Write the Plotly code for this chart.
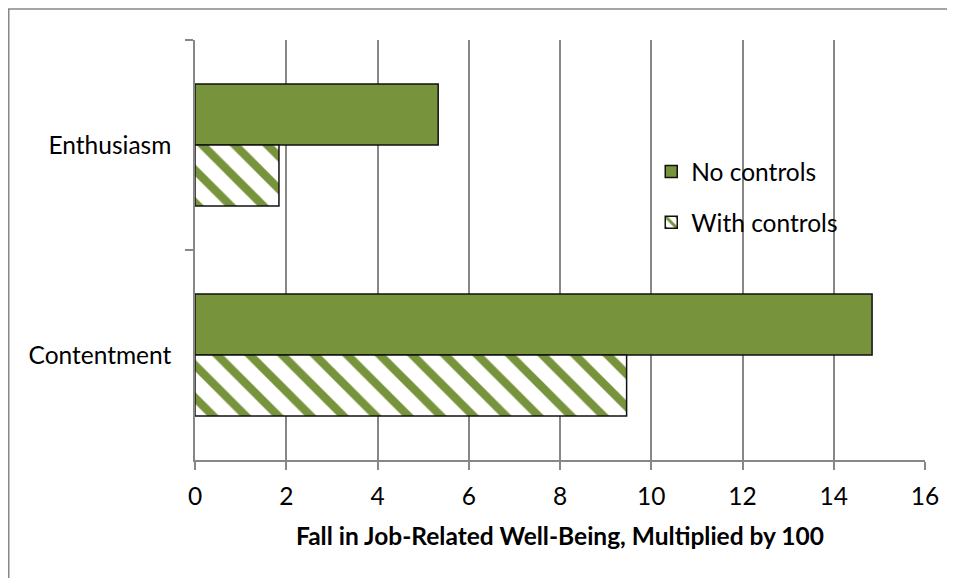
import plotly.graph_objects as go

categories = ["Enthusiasm", "Contentment"]
no_controls = [5.33, 14.84]
with_controls = [1.84, 9.46]
x_ticks = [0, 2, 4, 6, 8, 10, 12, 14, 16]
x_title = "Fall in Job-Related Well-Being, Multiplied by 100"

GREEN = "#77933C"
GRID = "#878787"
FONT = "Lato, 'Open Sans', sans-serif"
FS = 24.5

# page has an 8px body margin; figure sized to fit the 955x578 window
W, H = 947, 570
L, R, T, B = 187, 30, 32, 118
PW, PH = W - L - R, H - T - B

fig = go.Figure()
fig.add_trace(go.Bar(
    y=categories, x=no_controls, orientation="h", name="No controls",
    legendgroup="a",
    marker=dict(color=GREEN, line=dict(color="#111111", width=1.5)),
))
fig.add_trace(go.Bar(
    y=categories, x=with_controls, orientation="h", name="With controls",
    legendgroup="b",
    marker=dict(color="white", line=dict(color="#111111", width=1.5),
                pattern=dict(shape="\\", fgcolor=GREEN, bgcolor="white",
                             fillmode="overlay", fgopacity=1,
                             size=23, solidity=0.36)),
))

fig.update_layout(
    width=W, height=H,
    margin=dict(l=L, r=R, t=T, b=B),
    paper_bgcolor="white", plot_bgcolor="white",
    barmode="group", bargap=0.42, bargroupgap=0,
    font=dict(family=FONT, size=FS, color="#000000"),
    legend=dict(x=0.625, y=0.626, xanchor="left", yanchor="middle",
                bgcolor="rgba(0,0,0,0)", font=dict(size=FS),
                tracegroupgap=16, traceorder="grouped"),
    xaxis=dict(range=[0, 16], tickvals=x_ticks, ticktext=[str(v) for v in x_ticks],
               showgrid=True, gridcolor=GRID, gridwidth=1.5,
               showline=True, linecolor=GRID, linewidth=1.5,
               ticks="outside", ticklen=8, tickcolor=GRID, tickwidth=1.5,
               ticklabelstandoff=6, zeroline=False,
               title=dict(text="<b>" + x_title + "</b>", font=dict(size=FS), standoff=19)),
    yaxis=dict(autorange="reversed", type="category", showgrid=False,
               showline=True, linecolor=GRID, linewidth=1.5,
               ticks="outside", ticklen=8, tickcolor=GRID, tickwidth=1.5,
               tickson="boundaries", ticklabelstandoff=17),
    shapes=[
        dict(type="line", xref="paper", yref="paper",
             x0=(0 - L) / PW, x1=(W - L) / PW,
             y0=(H - B - 1) / PH, y1=(H - B - 1) / PH,
             line=dict(color=GRID, width=1.5)),
        dict(type="line", xref="paper", yref="paper",
             x0=(0.75 - L) / PW, x1=(0.75 - L) / PW,
             y0=(H - B - 1) / PH, y1=-B / PH,
             line=dict(color=GRID, width=1.5)),
    ],
)

fig.write_html("out.html")
